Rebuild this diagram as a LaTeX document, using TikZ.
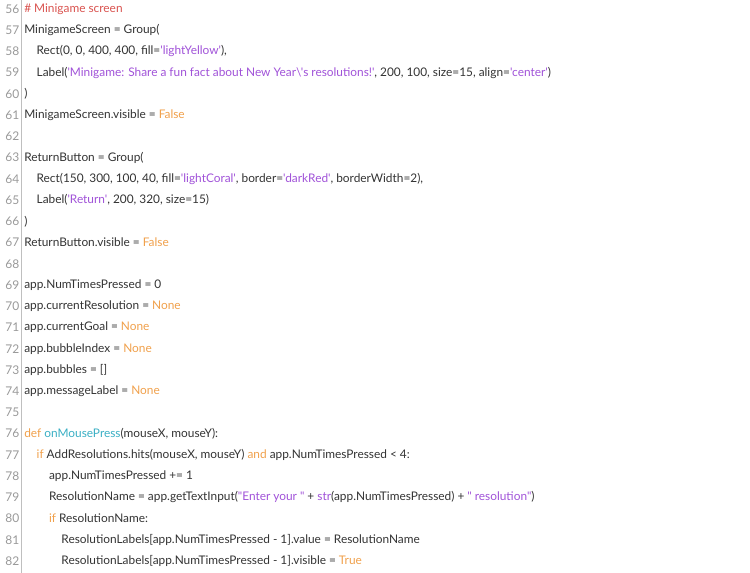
\documentclass[tikz,border=0pt]{standalone}
\usepackage{fontspec}
\newfontfamily\codefont{Lato}
\definecolor{cmt}{HTML}{D9534F}
\definecolor{str}{HTML}{A052D8}
\definecolor{kw}{HTML}{F0A04B}
\definecolor{fn}{HTML}{3AAFC4}
\definecolor{txt}{HTML}{333333}
\definecolor{num}{HTML}{999999}
\newcommand\Sx[1]{\textcolor{str}{#1}}
\newcommand\Kx[1]{\textcolor{kw}{#1}}
\tikzset{
 ln/.style={anchor=east,inner sep=0pt,text=num,font=\codefont\fontsize{9}{11}\selectfont},
 code/.style={anchor=west,inner sep=0pt,text=txt,font=\codefont\fontsize{8.9}{11}\selectfont}
}
\begin{document}
\begin{tikzpicture}[x=0.75pt,y=-0.75pt]
\useasboundingbox (0,0) rectangle (750,573);
\draw[black!25,line width=0.6pt] (21,0) -- (21,573);
\foreach \n in {56,...,82}{\node[ln] (n\n) at (19.5,{(\n-56)*21.23+9}) {\n};}
\newcommand\cl[3]{\node[code] (c#1) at ({24+12.4*#2},{(#1-56)*21.23+9}) {#3};}
\cl{56}{0}{\textcolor{cmt}{\# Minigame screen}}
\cl{57}{0}{MinigameScreen = Group(}
\cl{58}{1}{Rect(0, 0, 400, 400, fill=\Sx{'lightYellow'}),}
\cl{59}{1}{Label(\Sx{'Minigame: Share a fun fact about New Year\textbackslash's resolutions!'}, 200, 100, size=15, align=\Sx{'center'})}
\cl{60}{0}{)}
\cl{61}{0}{MinigameScreen.visible = \Kx{False}}
\cl{63}{0}{ReturnButton = Group(}
\cl{64}{1}{Rect(150, 300, 100, 40, fill=\Sx{'lightCoral'}, border=\Sx{'darkRed'}, borderWidth=2),}
\cl{65}{1}{Label(\Sx{'Return'}, 200, 320, size=15)}
\cl{66}{0}{)}
\cl{67}{0}{ReturnButton.visible = \Kx{False}}
\cl{69}{0}{app.NumTimesPressed = 0}
\cl{70}{0}{app.currentResolution = \Kx{None}}
\cl{71}{0}{app.currentGoal = \Kx{None}}
\cl{72}{0}{app.bubbleIndex = \Kx{None}}
\cl{73}{0}{app.bubbles = []}
\cl{74}{0}{app.messageLabel = \Kx{None}}
\cl{76}{0}{\Kx{def} \textcolor{fn}{onMousePress}(mouseX, mouseY):}
\cl{77}{1}{\Kx{if} AddResolutions.hits(mouseX, mouseY) \Kx{and} app.NumTimesPressed < 4:}
\cl{78}{2}{app.NumTimesPressed += 1}
\cl{79}{2}{ResolutionName = app.getTextInput(\Sx{"Enter your "} + \Sx{str}(app.NumTimesPressed) + \Sx{" resolution"})}
\cl{80}{2}{\Kx{if} ResolutionName:}
\cl{81}{3}{ResolutionLabels[app.NumTimesPressed - 1].value = ResolutionName}
\cl{82}{3}{ResolutionLabels[app.NumTimesPressed - 1].visible = \Kx{True}}
\end{tikzpicture}
\end{document}
